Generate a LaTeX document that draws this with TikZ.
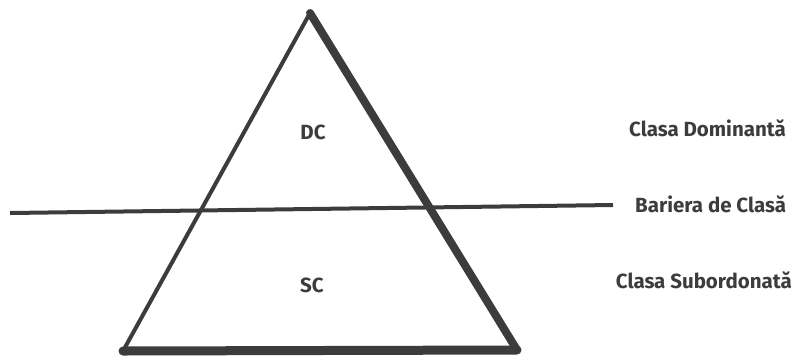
\documentclass[tikz,border=0pt]{standalone}
\usepackage{fontspec}
\setmainfont{Fira Sans}
\usetikzlibrary{positioning, calc}
\definecolor{ink}{HTML}{3C3C3C}

\begin{document}
\begin{tikzpicture}[
  x=1pt, y=-1pt,
  lbl/.style={text=ink, font=\fontsize{20.5}{24}\selectfont\bfseries, inner sep=0pt},
  side/.style={draw=ink, line cap=round, line join=round},
]
  \useasboundingbox (0,0) rectangle (802,360);

  \coordinate (apex) at (310, 13);
  \coordinate (bl)   at (123, 351);
  \coordinate (br)   at (517, 350);
  \coordinate (barL) at (10, 213);
  \coordinate (barR) at (613, 205);

  \draw[side, line width=4] (apex) -- (bl);
  \draw[side, line width=8] (apex) -- (br);
  \draw[side, line width=9] (bl) -- (br);
  \draw[draw=ink, line width=4] (barL) -- (barR);

  \node[lbl] (dc) at (313, 132) {DC};
  \node[lbl] (sc) at (312, 285) {SC};
  \node[lbl, anchor=east] (dom) at (786, 128) {Clasa Dominantă};
  \node[lbl, anchor=west] (bar) at (635, 204) {Bariera de Clasă};
  \node[lbl, anchor=east] (sub) at (792, 280) {Clasa Subordonată};
\end{tikzpicture}
\end{document}
